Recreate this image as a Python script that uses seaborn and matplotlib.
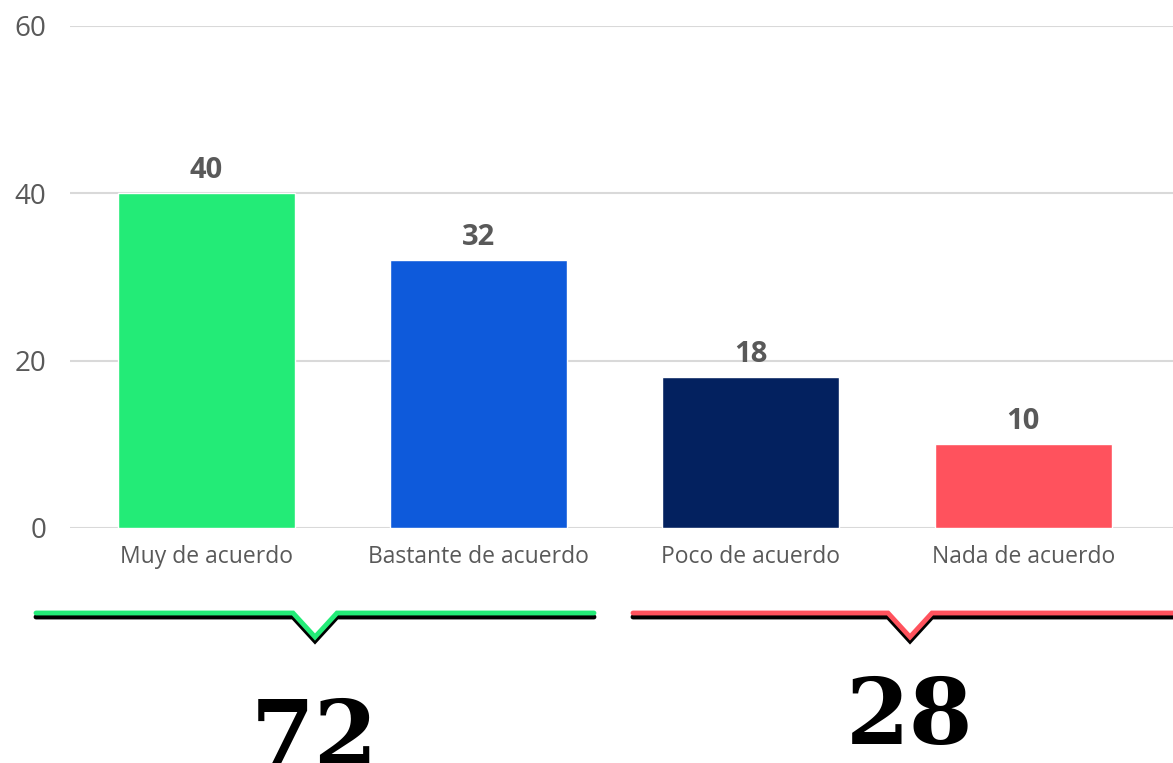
import numpy as np
import pandas as pd
import matplotlib.pyplot as plt
import seaborn as sns

categories = ['Muy de acuerdo', 'Bastante de acuerdo', 'Poco de acuerdo', 'Nada de acuerdo']
values = [40, 32, 18, 10]
colors = ['#23EB77', '#0E5ADB', '#03215F', '#FF525D']
yticks = [0, 20, 40, 60]

sns.set_theme(style='white')
plt.rcParams['font.family'] = ['Open Sans', 'DejaVu Sans']

df = pd.DataFrame({'cat': categories, 'val': values})

fig = plt.figure(figsize=(11.73, 7.63), dpi=100)
ax = fig.add_axes([70 / 1173, 1 - 528 / 763, 1 - 70 / 1173, (528 - 26) / 763])

sns.barplot(data=df, x='cat', y='val', hue='cat', palette=colors, legend=False,
            width=0.65, saturation=1, ax=ax, zorder=3)

for c in ax.containers:
    ax.bar_label(c, padding=6, fontsize=21, fontweight='bold', color='#595959')

ax.set_ylim(0, 60)
ax.set_xlim(-0.5, 3.55)
ax.set_yticks(yticks)
ax.grid(axis='y', color='#d9d9d9', linewidth=1.5, zorder=0)
ax.set_xlabel('')
ax.set_ylabel('')
ax.tick_params(axis='y', length=0, pad=17, labelsize=20, labelcolor='#595959')
ax.tick_params(axis='x', length=0, pad=12, labelsize=16.5, labelcolor='#595959')
sns.despine(ax=ax, left=True, bottom=True, top=True, right=True)

# brackets with totals underneath (pixel coordinates)
ov = fig.add_axes([0, 0, 1, 1], zorder=5)
ov.set_xlim(0, 1173)
ov.set_ylim(763, 0)
ov.axis('off')

groups = [
    (36, 594, 315, sum(values[:2]), colors[0], 766),
    (633, 1173, 910, sum(values[2:]), colors[3], 744),
]
for x0, x1, xm, total, col, base in groups:
    hw = 22
    xs = [x0, xm - hw, xm, xm + hw, x1]
    ys = [613, 613, 637, 613, 613]
    ov.plot(xs, np.array(ys) + 4, color='black', linewidth=3.5, solid_joinstyle='miter')
    ov.plot(xs, ys, color=col, linewidth=3.5, solid_joinstyle='miter')
    ov.text(xm, base, str(total), ha='center', va='baseline', fontsize=66,
            fontweight='bold', family='DejaVu Serif', color='black')

fig.savefig('out.png', dpi=100)
